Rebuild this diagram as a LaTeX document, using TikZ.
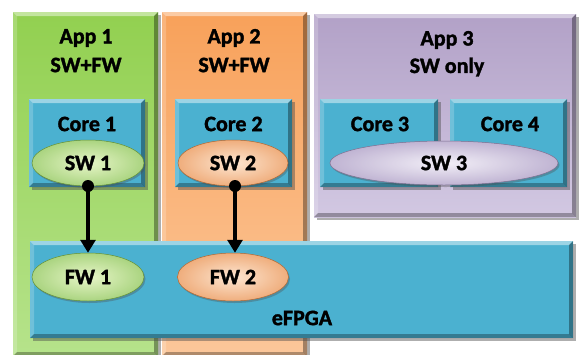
\documentclass[tikz,border=0pt]{standalone}
\usepackage{fontspec}
\setmainfont{Carlito}
\newfontfamily\lblfont{Carlito}[UprightFont={* Bold}, FakeBold=1.6]
\usetikzlibrary{shadows,arrows.meta,shapes.geometric}

\definecolor{appgreenT}{HTML}{92D050}
\definecolor{appgreenB}{HTML}{B6E38B}
\definecolor{apporangeT}{HTML}{F8A15A}
\definecolor{apporangeB}{HTML}{FBC79A}
\definecolor{apppurpleT}{HTML}{B2A1C7}
\definecolor{apppurpleB}{HTML}{D2C8E2}
\definecolor{coreteal}{HTML}{4BB1D0}
\definecolor{swgreenI}{HTML}{DDF2B0}
\definecolor{swgreenO}{HTML}{86C24A}
\definecolor{sworangeI}{HTML}{FDDCBE}
\definecolor{sworangeO}{HTML}{E98B45}
\definecolor{swpurpleI}{HTML}{EEE9F5}
\definecolor{swpurpleO}{HTML}{A594C0}

\tikzset{
  % bevelled edges: light top/left, dark bottom/right
  bevel/.style={path picture={
    \path (path picture bounding box.north west) coordinate (bNW)
          (path picture bounding box.north east) coordinate (bNE)
          (path picture bounding box.south west) coordinate (bSW)
          (path picture bounding box.south east) coordinate (bSE);
    \fill[white,opacity=.45] (bNW) -- (bNE) -- ([xshift=-#1,yshift=-#1]bNE) -- ([xshift=#1,yshift=-#1]bNW) -- cycle;
    \fill[white,opacity=.2] (bNW) -- (bSW) -- ([xshift=#1,yshift=#1]bSW) -- ([xshift=#1,yshift=-#1]bNW) -- cycle;
    \fill[black,opacity=.35] (bNE) -- (bSE) -- ([xshift=-#1,yshift=#1]bSE) -- ([xshift=-#1,yshift=-#1]bNE) -- cycle;
    \fill[black,opacity=.3] (bSW) -- (bSE) -- ([xshift=-#1,yshift=#1]bSE) -- ([xshift=#1,yshift=#1]bSW) -- cycle;
  }},
  box/.style={rectangle, inner sep=0pt, bevel=4pt,
    drop shadow={shadow xshift=2.5pt, shadow yshift=-2.5pt, opacity=.45, fill=black!70}},
  appbox/.style={box, top color=#1T, bottom color=#1B},
  corebox/.style={box, fill=coreteal},
  % glossy capsule: radial body plus a soft highlight along the top
  blob/.style={ellipse, inner sep=0pt, shading=radial, inner color=#1I, outer color=#1O,
    draw=#1O!75!black, line width=.5pt,
    path picture={
      \fill[white,opacity=.3] ([yshift=-.27\pgfpathpicbbh]path picture bounding box.north)
        ellipse [x radius=.38\pgfpathpicbbw, y radius=.2\pgfpathpicbbh];
    },
    drop shadow={shadow xshift=1.5pt, shadow yshift=-2pt, opacity=.35, fill=black!70}},
  lbl/.style={font=\lblfont\fontsize{22}{26}\selectfont, inner sep=0pt},
  tapdot/.style={circle, fill=black, minimum size=12pt, inner sep=0pt},
  flow/.style={line width=3.2pt, -{Triangle[width=15pt,length=13pt]}}
}
% width and height of the current path picture box
\makeatletter
\def\pgfpathpicbbw{\dimexpr\pgf@picmaxx-\pgf@picminx\relax}
\def\pgfpathpicbbh{\dimexpr\pgf@picmaxy-\pgf@picminy\relax}
\makeatother

\begin{document}
\begin{tikzpicture}[x=1pt,y=-1pt]
\useasboundingbox (0,0) rectangle (580,354);

% application regions
\node[appbox=appgreen,  minimum width=145pt, minimum height=344pt] (app1) at (85.5,184) {};
\node[appbox=apporange, minimum width=145pt, minimum height=344pt] (app2) at (234.5,184) {};
\node[appbox=apppurple, minimum width=262pt, minimum height=203pt] (app3) at (445,115.5) {};

\node[lbl] (app1a) at (86,38) {App 1};
\node[lbl] (app1b) at (86,65) {SW+FW};
\node[lbl] (app2a) at (234,38) {App 2};
\node[lbl] (app2b) at (234,65) {SW+FW};
\node[lbl] (app3a) at (447,40) {App 3};
\node[lbl] (app3b) at (447,67) {SW only};

% processor cores
\node[corebox, minimum width=116pt, minimum height=88pt] (core1) at (87,143) {};
\node[corebox, minimum width=117pt, minimum height=88pt] (core2) at (233.5,143) {};
\node[corebox, minimum width=118pt, minimum height=88pt] (core3) at (379,143) {};
\node[corebox, minimum width=117pt, minimum height=88pt] (core4) at (508.5,143) {};

\node[lbl] (core1t) at (87,124) {Core 1};
\node[lbl] (core2t) at (233.5,124) {Core 2};
\node[lbl] (core3t) at (380,124) {Core 3};
\node[lbl] (core4t) at (510,124) {Core 4};

% embedded FPGA fabric
\node[corebox, minimum width=543pt, minimum height=97pt] (efpga) at (301.5,289.5) {};
\node[lbl] (efpgat) at (302,318) {eFPGA};

% software parts
\node[blob=swgreen,  minimum width=112pt, minimum height=46pt, lbl] (sw1) at (88,163) {SW 1};
\node[blob=sworange, minimum width=110pt, minimum height=46pt, lbl] (sw2) at (233,163) {SW 2};
\node[blob=swpurple, minimum width=228pt, minimum height=44pt, lbl] (sw3) at (444,163) {SW 3};

% firmware parts
\node[blob=swgreen,  minimum width=112pt, minimum height=48pt, lbl] (fw1) at (88,277) {FW 1};
\node[blob=sworange, minimum width=111pt, minimum height=48pt, lbl] (fw2) at (233,277) {FW 2};

% offload connections
\node[tapdot] (d1) at (88,186) {};
\node[tapdot] (d2) at (235,186) {};
\draw[flow] (d1.center) -- (fw1.north);
\draw[flow] (d2.center) -- (fw2.north -| d2);
\end{tikzpicture}
\end{document}
